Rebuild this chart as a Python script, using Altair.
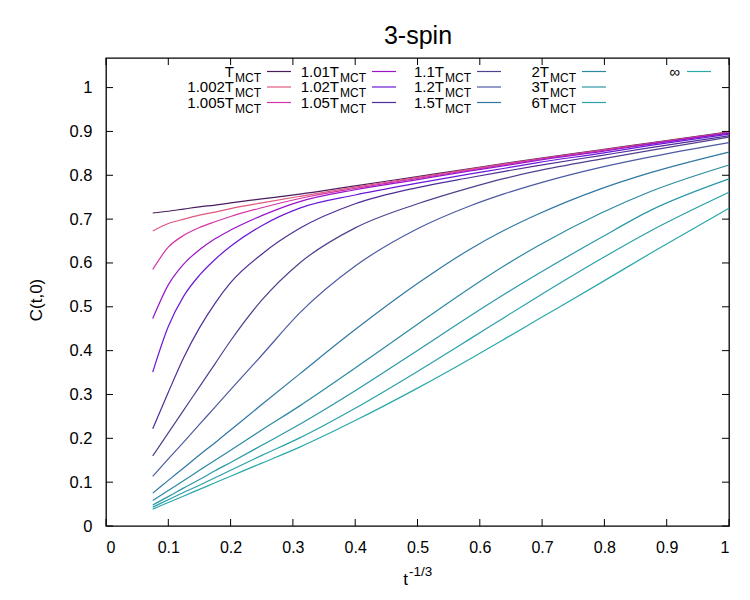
import altair as alt
import pandas as pd

# t^(-1/3) sample positions shared by every curve
x_vals = [0.075, 0.1, 0.125, 0.15, 0.175, 0.2, 0.25, 0.311, 0.4, 0.5,
          0.585, 0.64, 0.693, 0.794, 0.874, 1.0]

# C(t,0) for each temperature
c_T1 = [0.714, 0.718, 0.723, 0.728, 0.732, 0.737, 0.746, 0.757, 0.776, 0.797, 0.815, 0.827, 0.838, 0.858, 0.874, 0.899]
c_T1002 = [0.673, 0.690, 0.700, 0.709, 0.716, 0.724, 0.737, 0.752, 0.773, 0.795, 0.814, 0.826, 0.837, 0.857, 0.873, 0.898]
c_T1005 = [0.585, 0.636, 0.663, 0.681, 0.694, 0.706, 0.726, 0.747, 0.770, 0.793, 0.812, 0.824, 0.836, 0.856, 0.872, 0.897]
c_T101 = [0.473, 0.550, 0.598, 0.630, 0.655, 0.675, 0.708, 0.740, 0.767, 0.790, 0.810, 0.822, 0.834, 0.854, 0.871, 0.896]
c_T102 = [0.351, 0.455, 0.525, 0.572, 0.608, 0.638, 0.685, 0.725, 0.755, 0.782, 0.803, 0.816, 0.829, 0.850, 0.868, 0.894]
c_T105 = [0.222, 0.305, 0.385, 0.452, 0.508, 0.555, 0.620, 0.679, 0.735, 0.772, 0.795, 0.809, 0.822, 0.845, 0.863, 0.890]
c_T11 = [0.160, 0.2125, 0.265, 0.3175, 0.370, 0.4225, 0.515, 0.600, 0.680, 0.735, 0.772, 0.793, 0.810, 0.837, 0.857, 0.887]
c_T12 = [0.113, 0.153, 0.192, 0.232, 0.271, 0.311, 0.3895, 0.486, 0.593, 0.678, 0.7305, 0.758, 0.781, 0.818, 0.842, 0.8745]
c_T15 = [0.075, 0.104, 0.133, 0.162, 0.190, 0.219, 0.277, 0.347, 0.448, 0.553, 0.632, 0.675, 0.711, 0.769, 0.806, 0.853]
c_T2 = [0.058, 0.081, 0.104, 0.127, 0.150, 0.173, 0.219, 0.274, 0.3603, 0.4603, 0.5436, 0.5942, 0.6387, 0.7134, 0.763, 0.8235]
c_T3 = [0.048, 0.067, 0.087, 0.106, 0.126, 0.145, 0.184, 0.232, 0.3085, 0.4005, 0.4796, 0.5291, 0.5747, 0.6575, 0.7199, 0.7917]
c_T6 = [0.043, 0.060, 0.077, 0.093, 0.110, 0.127, 0.161, 0.201, 0.2686, 0.3526, 0.4274, 0.4764, 0.523, 0.6089, 0.6729, 0.7611]
c_Tinf = [0.0385, 0.0535, 0.0685, 0.0835, 0.0985, 0.1135, 0.1435, 0.180, 0.2405, 0.3145, 0.3817, 0.4268, 0.4708, 0.5546, 0.622, 0.725]

series_keys = ["1", "1.002", "1.005", "1.01", "1.02", "1.05", "1.1", "1.2",
               "1.5", "2", "3", "6", "inf"]
series_values = [c_T1, c_T1002, c_T1005, c_T101, c_T102, c_T105, c_T11, c_T12,
                 c_T15, c_T2, c_T3, c_T6, c_Tinf]
legend_main = ["T", "1.002T", "1.005T", "1.01T", "1.02T", "1.05T", "1.1T",
               "1.2T", "1.5T", "2T", "3T", "6T", "\u221e"]
legend_sub = ["MCT"] * 12 + [""]
legend_col = [0, 0, 0, 1, 1, 1, 2, 2, 2, 3, 3, 3, 4]
legend_row = [0, 1, 2, 0, 1, 2, 0, 1, 2, 0, 1, 2, 0]
colors = ["#4a1c60", "#e0587e", "#d232a8", "#9a14c8", "#6a18d8", "#4e2c96",
          "#523f8e", "#4c5aa2", "#2f78a2", "#2a8aa2", "#2a98a6", "#29a0a8", "#2aa8aa"]

x_ticks = [0, 0.1, 0.2, 0.3, 0.4, 0.5, 0.6, 0.7, 0.8, 0.9, 1.0]
y_ticks = [0, 0.1, 0.2, 0.3, 0.4, 0.5, 0.6, 0.7, 0.8, 0.9, 1.0]

W, H = 623, 468
FONT = "Liberation Sans"
LABEL_EXPR = "datum.value == 0 ? '0' : datum.value == 1 ? '1' : format(datum.value, '.1f')"

rows = []
for key, vals in zip(series_keys, series_values):
    for xv, yv in zip(x_vals, vals):
        rows.append({"series": key, "x": xv, "c": yv})
curves = pd.DataFrame(rows)

legend_df = pd.DataFrame({
    "series": series_keys, "main": legend_main, "sub": legend_sub,
    "col": legend_col, "row": legend_row,
})

color_scale = alt.Scale(domain=series_keys, range=colors)
xs = alt.Scale(domain=[0, 1], nice=False, zero=False)
ys = alt.Scale(domain=[0, 1.0675], nice=False, zero=False)

lines = alt.Chart(curves).mark_line(strokeWidth=1.2, interpolate="monotone").encode(
    x=alt.X("x:Q", scale=xs,
            axis=alt.Axis(values=x_ticks, ticks=False, domain=False, grid=False,
                          labelFontSize=16, labelFont=FONT, labelColor="black",
                          labelPadding=13, title=None, labelExpr=LABEL_EXPR)),
    y=alt.Y("c:Q", scale=ys,
            axis=alt.Axis(values=y_ticks, ticks=False, domain=False, grid=False,
                          labelFontSize=16.5, labelFont=FONT, labelColor="black",
                          labelPadding=14, title=None, labelExpr=LABEL_EXPR)),
    color=alt.Color("series:N", scale=color_scale, legend=None),
    detail="series:N",
)

# inward tick marks on all four sides of the frame
xt = pd.DataFrame({"v": x_ticks})
yt = pd.DataFrame({"v": y_ticks})
tick_style = dict(color="black", strokeWidth=1)
bottom_ticks = alt.Chart(xt).mark_rule(**tick_style).encode(
    x=alt.X("v:Q", scale=xs), y=alt.value(H), y2=alt.value(H - 7))
top_ticks = alt.Chart(xt).mark_rule(**tick_style).encode(
    x=alt.X("v:Q", scale=xs), y=alt.value(0), y2=alt.value(7))
left_ticks = alt.Chart(yt).mark_rule(**tick_style).encode(
    y=alt.Y("v:Q", scale=ys), x=alt.value(0), x2=alt.value(7))
right_ticks = alt.Chart(yt).mark_rule(**tick_style).encode(
    y=alt.Y("v:Q", scale=ys), x=alt.value(W), x2=alt.value(W - 7))

# key: label text, subscript and a short sample line per entry
leg = alt.Chart(legend_df).transform_calculate(
    xl1="161 + 105 * datum.col",
    xl2="185 + 105 * datum.col",
    yr="13.5 + 15.5 * datum.row",
    xm="datum.sub == '' ? 154 + 105 * datum.col : 128 + 105 * datum.col",
    xs="129 + 105 * datum.col",
)
leg_lines = leg.mark_rule(strokeWidth=1.2).encode(
    x=alt.X("xl1:Q", scale=None), x2="xl2:Q",
    y=alt.Y("yr:Q", scale=None),
    color=alt.Color("series:N", scale=color_scale, legend=None),
)
leg_main = leg.mark_text(align="right", baseline="middle", fontSize=15,
                         font=FONT, color="black").encode(
    x=alt.X("xm:Q", scale=None), y=alt.Y("yr:Q", scale=None), text="main:N")
leg_sub = leg.transform_filter("datum.sub != ''").mark_text(
    align="left", baseline="middle", fontSize=12, font=FONT, color="black", dy=6
).encode(x=alt.X("xs:Q", scale=None), y=alt.Y("yr:Q", scale=None), text="sub:N")

# titles
title = alt.Chart(pd.DataFrame({"t": ["3-spin"]})).mark_text(
    fontSize=25, font=FONT, color="black", align="center", baseline="middle"
).encode(x=alt.value(312), y=alt.value(-22), text="t:N")
ylab = alt.Chart(pd.DataFrame({"t": ["C(t,0)"]})).mark_text(
    fontSize=17, font=FONT, color="black", align="center", baseline="middle", angle=270
).encode(x=alt.value(-69), y=alt.value(242), text="t:N")
xlab_t = alt.Chart(pd.DataFrame({"t": ["t"]})).mark_text(
    fontSize=17, font=FONT, color="black", align="right", baseline="alphabetic"
).encode(x=alt.value(302), y=alt.value(527), text="t:N")
xlab_sup = alt.Chart(pd.DataFrame({"t": ["-1/3"]})).mark_text(
    fontSize=13.5, font=FONT, color="black", align="left", baseline="alphabetic"
).encode(x=alt.value(303), y=alt.value(518), text="t:N")

chart = alt.layer(
    lines, bottom_ticks, top_ticks, left_ticks, right_ticks,
    leg_lines, leg_main, leg_sub, title, ylab, xlab_t, xlab_sup,
).properties(
    width=W, height=H,
    autosize=alt.AutoSizeParams(type="none"),
    padding={"left": 106, "top": 58, "right": 21, "bottom": 74},
    background="white",
).configure_view(stroke="black", strokeWidth=1.3)

chart.save("out.html", embed_options={"renderer": "svg", "actions": False})
